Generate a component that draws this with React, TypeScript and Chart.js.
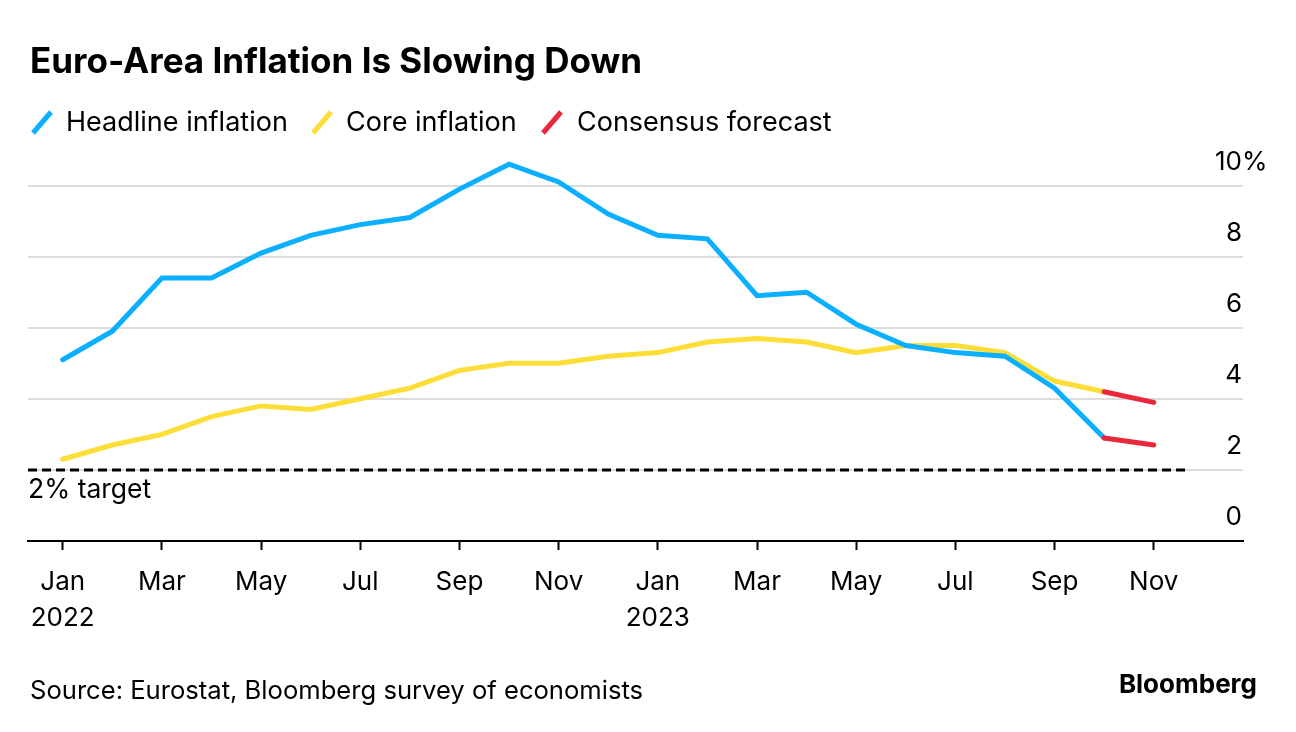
import React, { useEffect, useRef } from 'react';
import { Chart, registerables } from 'chart.js';

Chart.register(...registerables);

// ---- Data ----
const CATEGORIES = [
  'Jan 2022', 'Feb 2022', 'Mar 2022', 'Apr 2022', 'May 2022', 'Jun 2022',
  'Jul 2022', 'Aug 2022', 'Sep 2022', 'Oct 2022', 'Nov 2022', 'Dec 2022',
  'Jan 2023', 'Feb 2023', 'Mar 2023', 'Apr 2023', 'May 2023', 'Jun 2023',
  'Jul 2023', 'Aug 2023', 'Sep 2023', 'Oct 2023', 'Nov 2023',
];
// Jan 2022 .. Oct 2023
const HEADLINE = [5.1, 5.9, 7.4, 7.4, 8.1, 8.6, 8.9, 9.1, 9.9, 10.6, 10.1, 9.2,
  8.6, 8.5, 6.9, 7.0, 6.1, 5.5, 5.3, 5.2, 4.3, 2.9];
const CORE = [2.3, 2.7, 3.0, 3.5, 3.8, 3.7, 4.0, 4.3, 4.8, 5.0, 5.0, 5.2,
  5.3, 5.6, 5.7, 5.6, 5.3, 5.5, 5.5, 5.3, 4.5, 4.2];
// Oct 2023 (last actual) -> Nov 2023 (consensus)
const HEADLINE_FORECAST = [2.9, 2.7];
const CORE_FORECAST = [4.2, 3.9];
const FORECAST_START = 21;
const TARGET = 2;
const TARGET_END = 22.65;
const Y_TICKS = [0, 2, 4, 6, 8, 10];
const X_TICK_INDICES = [0, 2, 4, 6, 8, 10, 12, 14, 16, 18, 20, 22];

const X_MIN = -0.7;
const X_MAX = 23.8;

const BLUE = '#0AAFFF';
const YELLOW = '#FDDE38';
const RED = '#E9283A';
const GRID = '#dcdcdc';
const FONT = 'Inter, "Noto Sans", sans-serif';

const toPoints = (vals: number[], start = 0) => vals.map((v, i) => ({ x: start + i, y: v }));

const annotationPlugin = {
  id: 'annotations',
  afterDraw(chart: any) {
    const { ctx, chartArea, scales } = chart;
    const y = scales.y;
    ctx.save();
    ctx.font = `26px ${FONT}`;
    ctx.fillStyle = '#000';
    ctx.textBaseline = 'alphabetic';
    const ticks = y.ticks;
    ticks.forEach((t: any, i: number) => {
      const py = y.getPixelForValue(t.value) - 16;
      const num = String(t.value);
      const w = ctx.measureText(num).width;
      ctx.textAlign = 'left';
      const label = i === ticks.length - 1 ? `${num}%` : num;
      ctx.fillText(label, chartArea.right - 1 - w, py);
    });
    ctx.font = `26.5px ${FONT}`;
    ctx.textAlign = 'left';
    ctx.fillText(`${TARGET}% target`, chartArea.left, y.getPixelForValue(TARGET) + 28);
    ctx.restore();
  },
};

function LegendMark({ color, left }: { color: string; left: number }) {
  return (
    <svg width={28} height={30} style={{ position: 'absolute', left, top: 107 }}>
      <line x1={5} y1={26} x2={23} y2={5} stroke={color} strokeWidth={5} />
    </svg>
  );
}

export default function App() {
  const ref = useRef<HTMLCanvasElement | null>(null);

  useEffect(() => {
    document.body.style.margin = '0';
    const canvas = ref.current;
    if (!canvas) return;
    const chart = new Chart(canvas, {
      type: 'line',
      data: {
        datasets: [
          {
            label: 'Headline forecast',
            data: toPoints(HEADLINE_FORECAST, FORECAST_START),
            borderColor: RED, borderWidth: 5, pointRadius: 0, order: 0,
            borderCapStyle: 'round',
          },
          {
            label: 'Core forecast',
            data: toPoints(CORE_FORECAST, FORECAST_START),
            borderColor: RED, borderWidth: 5, pointRadius: 0, order: 0,
            borderCapStyle: 'round',
          },
          {
            label: 'Headline inflation',
            data: toPoints(HEADLINE),
            borderColor: BLUE, borderWidth: 5, pointRadius: 0, order: 1,
            borderCapStyle: 'round',
          },
          {
            label: 'Core inflation',
            data: toPoints(CORE),
            borderColor: YELLOW, borderWidth: 5, pointRadius: 0, order: 2,
            borderCapStyle: 'round',
          },
          {
            label: '2% target',
            data: [{ x: X_MIN, y: TARGET }, { x: TARGET_END, y: TARGET }],
            borderColor: '#000', borderWidth: 3, borderDash: [9, 5], pointRadius: 0, order: 3,
          },
        ],
      },
      options: {
        responsive: false,
        animation: false,
        devicePixelRatio: 1,
        layout: { padding: { top: 150, left: 28, right: 53, bottom: 0 } },
        plugins: { legend: { display: false }, tooltip: { enabled: false }, title: { display: false } },
        scales: {
          x: {
            type: 'linear',
            min: X_MIN,
            max: X_MAX,
            afterBuildTicks: (s: any) => { s.ticks = X_TICK_INDICES.map((v) => ({ value: v })); },
            afterFit: (s: any) => { s.height = 191; },
            grid: { drawOnChartArea: false, drawTicks: true, tickLength: 9, tickColor: '#000', tickWidth: 2 },
            border: { display: true, color: '#000', width: 2 },
            ticks: {
              autoSkip: false,
              maxRotation: 0,
              padding: 14,
              color: '#000',
              font: { family: FONT, size: 26, lineHeight: 1.385 },
              callback: (v: any) => {
                const c = CATEGORIES[Math.round(Number(v))];
                if (!c) return '';
                const [m, yr] = c.split(' ');
                return m === 'Jan' ? [m, yr] : m;
              },
            },
          },
          y: {
            position: 'right',
            min: 0,
            max: 11,
            afterBuildTicks: (s: any) => { s.ticks = Y_TICKS.map((v) => ({ value: v })); },
            afterFit: (s: any) => { s.width = 0; },
            ticks: { display: false },
            border: { display: false },
            grid: {
              drawTicks: false,
              lineWidth: 2,
              color: (ctx: any) => (ctx.tick && ctx.tick.value === 0 ? 'rgba(0,0,0,0)' : GRID),
            },
          },
        },
      },
      plugins: [annotationPlugin],
    } as any);
    return () => chart.destroy();
  }, []);

  const text: React.CSSProperties = { position: 'absolute', fontFamily: FONT, color: '#000', lineHeight: 1, whiteSpace: 'nowrap', margin: 0 };

  return (
    <div style={{ position: 'fixed', left: 0, top: 0, width: 1296, height: 732, background: '#fff', overflow: 'hidden' }}>
      <canvas ref={ref} width={1296} height={732} style={{ position: 'absolute', left: 0, top: 0, width: 1296, height: 732 }} />
      <div style={{ ...text, left: 30, top: 43, fontSize: 35, fontWeight: 700 }}>Euro-Area Inflation Is Slowing Down</div>
      <LegendMark color={BLUE} left={28} />
      <div style={{ ...text, left: 66, top: 108, fontSize: 27 }}>Headline inflation</div>
      <LegendMark color={YELLOW} left={308} />
      <div style={{ ...text, left: 346, top: 108, fontSize: 27 }}>Core inflation</div>
      <LegendMark color={RED} left={538} />
      <div style={{ ...text, left: 577, top: 108, fontSize: 27 }}>Consensus forecast</div>
      <div style={{ ...text, left: 30, top: 677, fontSize: 25.6 }}>Source: Eurostat, Bloomberg survey of economists</div>
      <div style={{ ...text, right: 39, top: 671, fontSize: 26, fontWeight: 700 }}>Bloomberg</div>
    </div>
  );
}
